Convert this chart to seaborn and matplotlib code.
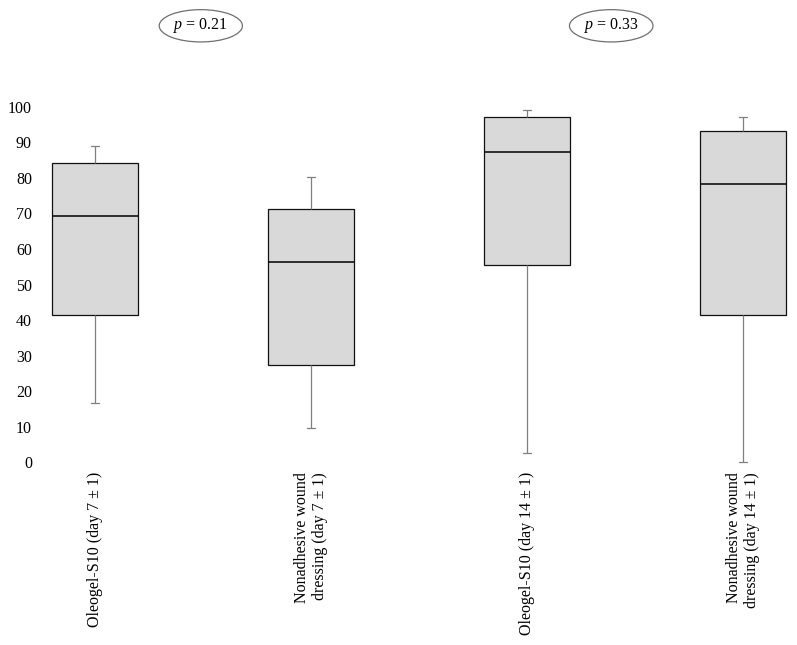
# Box plot: Oleogel-S10 vs nonadhesive wound dressing
import numpy as np
import pandas as pd
import matplotlib
matplotlib.use("Agg")
import matplotlib.pyplot as plt
import seaborn as sns

groups = ["Oleogel-S10 (day 7 ± 1)",
          "Nonadhesive wound\ndressing (day 7 ± 1)",
          "Oleogel-S10 (day 14 ± 1)",
          "Nonadhesive wound\ndressing (day 14 ± 1)"]
# five-number summaries: min, Q1, median, Q3, max
oleogel_d7 = [16.6, 41.4, 69.3, 84.3, 89.0]
nonadh_d7 = [9.6, 27.4, 56.3, 71.2, 80.2]
oleogel_d14 = [2.7, 55.4, 87.2, 97.2, 99.1]
nonadh_d14 = [0.0, 41.4, 78.2, 93.2, 97.2]
p_labels = ["$p$ = 0.21", "$p$ = 0.33"]
p_xpos = [0.49, 2.39]

data = pd.DataFrame({
    "group": np.repeat(groups, 5),
    "value": oleogel_d7 + nonadh_d7 + oleogel_d14 + nonadh_d14,
})

sns.set_style("white")
plt.rcParams["font.family"] = ["Liberation Serif", "DejaVu Serif"]
plt.rcParams["mathtext.fontset"] = "custom"
plt.rcParams["mathtext.rm"] = "Liberation Serif"
plt.rcParams["mathtext.it"] = "Liberation Serif:italic"
plt.rcParams["text.color"] = "black"
plt.rcParams["xtick.color"] = "black"
plt.rcParams["ytick.color"] = "black"

fig = plt.figure(figsize=(7.97, 6.45), dpi=100)
ax = fig.add_axes([0.0514, 0.2778, 0.9486, 0.5622])

sns.boxplot(data=data, x="group", y="value", order=groups, ax=ax,
            color="#d9d9d9", saturation=1, width=0.4, whis=(0, 100),
            linecolor="#111111", linewidth=0.9, capwidths=0.035,
            whiskerprops={"color": "#7f7f7f"}, capprops={"color": "#7f7f7f"},
            medianprops={"color": "#000000", "linewidth": 1.1})

ax.set_xlim(-0.25, 3.25)
ax.set_ylim(-1, 101)
ax.set_yticks(range(0, 101, 10))
ax.set_xlabel("")
ax.set_ylabel("")
sns.despine(ax=ax, left=True, bottom=True)
ax.tick_params(axis="y", length=0, pad=6.5, labelsize=11.5, labelcolor="black")
ax.tick_params(axis="x", length=0, pad=4.5, labelsize=11.5, labelcolor="black")
for lab in ax.get_xticklabels():
    lab.set_rotation(90)
    lab.set_ha("center")
    lab.set_va("top")
    lab.set_multialignment("right")

for txt, xp in zip(p_labels, p_xpos):
    ax.annotate(txt, xy=(xp, 0.96), xycoords=("data", "figure fraction"),
                ha="center", va="center", fontsize=11.5, color="black",
                bbox=dict(boxstyle="ellipse,pad=0.12", fc="white",
                          ec="#6f6f6f", lw=0.9))

fig.savefig("out.png", dpi=100)
